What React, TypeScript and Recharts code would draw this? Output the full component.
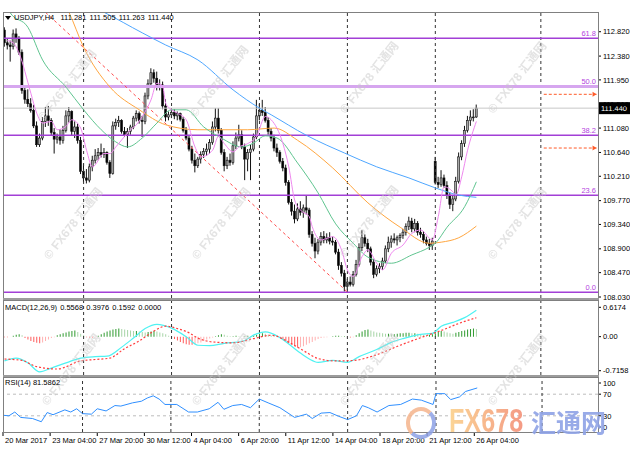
import { ComposedChart, Bar, Line, XAxis, YAxis, ReferenceLine, Cell } from 'recharts'

const FONT = '"Liberation Sans", Arial, sans-serif'
const CJK = '"Noto Sans CJK SC", sans-serif'

// USDJPY H4 bars, 20 Mar 12:00 .. 26 Apr 08:00
const openP = [
  112.85, 112.62, 112.58, 112.55, 112.78, 112.7, 112.45, 111.76, 111.6, 111.52,
  111.4, 111.12, 110.78, 110.9, 111.2, 111.3, 111.22, 111.0, 110.88, 110.92,
  110.86, 111.04, 111.3, 111.38, 111.02, 111.1, 110.86, 110.3, 110.18, 110.14,
  110.38, 110.5, 110.58, 110.64, 110.6, 110.64, 110.46, 110.26, 111.12, 111.18,
  111.22, 111.02, 110.96, 111.02, 111.1, 111.26, 111.34, 111.22, 111.2, 111.66,
  111.88, 112.08, 111.98, 111.84, 111.86, 111.48, 111.28, 111.32, 111.36, 111.3,
  111.34, 111.24, 111.04, 110.9, 110.7, 110.5, 110.4, 110.52, 110.6, 110.66,
  110.7, 110.82, 111.1, 111.26, 111.04, 110.64, 110.4, 110.5, 110.46, 110.76,
  110.9, 110.96, 110.74, 110.52, 110.64, 110.7, 110.92, 111.3, 111.4, 111.36,
  111.22, 111.02, 110.9, 110.72, 110.64, 110.48, 110.36, 110.1, 109.74, 109.58,
  109.44, 109.62, 109.56, 109.64, 109.6, 109.16, 109.0, 108.86, 109.02, 109.12,
  109.06, 109.1, 109.04, 109.02, 108.84, 108.6, 108.46, 108.22, 108.3, 108.26,
  108.44, 108.62, 108.92, 109.1, 109.0, 108.9, 108.66, 108.44, 108.54, 108.58,
  108.68, 108.9, 109.02, 109.08, 109.06, 109.1, 109.14, 109.2, 109.3, 109.4,
  109.26, 109.36, 109.2, 109.16, 109.06, 109.0, 108.96, 110.48, 110.1, 110.06,
  110.18, 110.04, 109.86, 109.7, 109.8, 110.12, 110.56, 110.8, 111.04, 111.22,
  111.28, 111.281,
]
const highP = [
  112.9, 112.7, 112.66, 112.86, 112.88, 112.74, 112.5, 111.84, 111.78, 111.62,
  111.5, 111.2, 110.98, 111.28, 111.46, 111.48, 111.26, 111.08, 110.98, 111.06,
  111.12, 111.4, 111.46, 111.4, 111.2, 111.16, 110.92, 110.44, 110.34, 110.44,
  110.58, 110.7, 110.72, 110.8, 110.72, 110.66, 110.5, 111.2, 111.25, 111.3,
  111.24, 111.1, 111.08, 111.14, 111.3, 111.4, 111.38, 111.3, 111.72, 111.96,
  112.16, 112.14, 112.1, 111.96, 111.92, 111.6, 111.38, 111.44, 111.42, 111.38,
  111.36, 111.28, 111.1, 110.94, 110.76, 110.62, 110.56, 110.66, 110.72, 110.8,
  110.88, 111.2, 111.44, 111.44, 111.08, 110.7, 110.56, 110.62, 110.84, 111.0,
  111.14, 111.04, 110.8, 110.7, 110.78, 110.98, 111.59, 111.52, 111.59, 111.46,
  111.28, 111.08, 110.96, 110.8, 110.68, 110.54, 110.42, 110.14, 109.8, 109.7,
  109.72, 109.76, 109.7, 109.87, 109.64, 109.22, 109.1, 109.08, 109.2, 109.22,
  109.18, 109.2, 109.12, 109.06, 108.9, 108.66, 108.52, 108.36, 108.4, 108.5,
  108.7, 109.0, 109.24, 109.16, 109.08, 108.94, 108.72, 108.6, 108.64, 108.74,
  108.96, 109.12, 109.14, 109.18, 109.14, 109.18, 109.26, 109.36, 109.48, 109.46,
  109.44, 109.4, 109.28, 109.22, 109.12, 109.08, 109.1, 110.56, 110.2, 110.32,
  110.24, 110.12, 109.92, 109.86, 110.2, 110.64, 110.86, 111.12, 111.3, 111.4,
  111.42, 111.505,
]
const lowP = [
  112.55, 112.5, 112.28, 112.5, 112.62, 112.4, 111.7, 111.52, 111.46, 111.36,
  111.08, 110.74, 110.74, 110.86, 111.1, 111.12, 110.95, 110.62, 110.8, 110.78,
  110.8, 111.0, 111.18, 110.95, 110.9, 110.8, 110.25, 110.1, 110.08, 110.1,
  110.3, 110.44, 110.5, 110.55, 110.54, 110.42, 110.18, 110.24, 111.05, 111.1,
  110.98, 110.92, 110.72, 110.96, 111.06, 111.2, 111.16, 110.92, 111.15, 111.6,
  111.84, 111.9, 111.76, 111.76, 111.42, 111.2, 111.22, 111.26, 111.24, 111.22,
  111.2, 111.0, 110.86, 110.66, 110.44, 110.28, 110.36, 110.44, 110.54, 110.58,
  110.62, 110.78, 111.02, 110.98, 110.6, 110.3, 110.34, 110.4, 110.42, 110.7,
  110.84, 110.7, 110.14, 110.3, 110.14, 110.66, 110.88, 111.22, 111.3, 111.18,
  110.96, 110.84, 110.66, 110.56, 110.44, 110.3, 110.04, 109.7, 109.5, 109.36,
  109.4, 109.5, 109.46, 109.52, 109.1, 108.94, 108.73, 108.8, 108.96, 109.0,
  109.0, 108.98, 108.96, 108.8, 108.52, 108.4, 108.13, 108.16, 108.22, 108.22,
  108.4, 108.58, 108.86, 108.94, 108.84, 108.6, 108.37, 108.4, 108.46, 108.52,
  108.64, 108.84, 108.92, 109.0, 108.96, 109.02, 109.08, 109.14, 109.24, 109.2,
  109.2, 109.14, 109.1, 109.0, 108.96, 108.88, 108.88, 110.06, 110.0, 110.02,
  110.0, 109.8, 109.62, 109.58, 109.76, 110.08, 110.5, 110.74, 111.0, 111.12,
  111.2, 111.263,
]
const closeP = [
  112.62, 112.58, 112.55, 112.78, 112.7, 112.45, 111.76, 111.6, 111.52, 111.4,
  111.12, 110.78, 110.9, 111.2, 111.3, 111.22, 111.0, 110.88, 110.92, 110.86,
  111.04, 111.3, 111.38, 111.02, 111.1, 110.86, 110.3, 110.18, 110.14, 110.38,
  110.5, 110.58, 110.64, 110.6, 110.64, 110.46, 110.26, 111.12, 111.18, 111.22,
  111.02, 110.96, 111.02, 111.1, 111.26, 111.34, 111.22, 111.2, 111.66, 111.88,
  112.08, 111.98, 111.84, 111.86, 111.48, 111.28, 111.32, 111.36, 111.3, 111.34,
  111.24, 111.04, 110.9, 110.7, 110.5, 110.4, 110.52, 110.6, 110.66, 110.7,
  110.82, 111.1, 111.26, 111.04, 110.64, 110.4, 110.5, 110.46, 110.76, 110.9,
  110.96, 110.74, 110.52, 110.64, 110.7, 110.92, 111.3, 111.4, 111.36, 111.22,
  111.02, 110.9, 110.72, 110.64, 110.48, 110.36, 110.1, 109.74, 109.58, 109.44,
  109.62, 109.56, 109.64, 109.6, 109.16, 109.0, 108.86, 109.02, 109.12, 109.06,
  109.1, 109.04, 109.02, 108.84, 108.6, 108.46, 108.22, 108.3, 108.26, 108.44,
  108.62, 108.92, 109.1, 109.0, 108.9, 108.66, 108.44, 108.54, 108.58, 108.68,
  108.9, 109.02, 109.08, 109.06, 109.1, 109.14, 109.2, 109.3, 109.4, 109.26,
  109.36, 109.2, 109.16, 109.06, 109.0, 108.96, 109.04, 110.1, 110.06, 110.18,
  110.04, 109.86, 109.7, 109.8, 110.12, 110.56, 110.8, 111.04, 111.22, 111.28,
  111.28, 111.44,
]

// MACD histogram per bar
const macdHist = [
  -0.01, -0.01, 0.0, 0.02, 0.04, 0.05, 0.03, -0.03, -0.06, -0.09,
  -0.11, -0.13, -0.14, -0.12, -0.09, -0.06, -0.03, -0.01, 0.03, 0.05,
  0.07, 0.09, 0.11, 0.12, 0.13, 0.1, 0.06, 0.03, -0.01, -0.02,
  -0.02, -0.01, 0.02, 0.05, 0.08, 0.11, 0.13, 0.15, 0.16, 0.17,
  0.16, 0.15, 0.14, 0.13, 0.12, 0.12, 0.11, 0.1, 0.09, 0.1,
  0.11, 0.12, 0.11, 0.09, 0.07, 0.05, 0.02, -0.02, -0.05, -0.08,
  -0.11, -0.14, -0.16, -0.17, -0.17, -0.16, -0.14, -0.12, -0.09, -0.06,
  -0.04, -0.02, 0.01, 0.03, 0.05, 0.04, 0.02, 0.01, 0.01, 0.02,
  0.01, 0.0, 0.01, 0.02, 0.01, 0.02, 0.04, 0.06, 0.07, 0.06,
  0.04, 0.02, 0.01, 0.0, -0.02, -0.05, -0.09, -0.13, -0.17, -0.2,
  -0.23, -0.22, -0.2, -0.17, -0.14, -0.11, -0.08, -0.05, -0.03, -0.02,
  -0.01, 0.0, 0.01, 0.02, 0.02, 0.01, 0.01, -0.01, -0.02, -0.01,
  0.03, 0.07, 0.11, 0.14, 0.15, 0.13, 0.11, 0.09, 0.08, 0.07,
  0.06, 0.06, 0.05, 0.05, 0.06, 0.07, 0.07, 0.08, 0.08, 0.07,
  0.07, 0.06, 0.05, 0.04, 0.03, 0.04, 0.05, 0.07, 0.1, 0.12,
  0.11, 0.09, 0.07, 0.06, 0.08, 0.1, 0.12, 0.13, 0.15, 0.16,
  0.17, 0.1592,
]

// indicator lines read at sample bars: [bar, value]
const maBlue: [number, number][] = [
  [0, 114.0], [18, 113.55], [34, 113.17], [47, 112.8], [55, 112.58], [66, 112.31], [78, 111.77],
  [87, 111.44], [91, 111.32], [103, 110.95], [110, 110.77], [116, 110.63], [127, 110.38],
  [138, 110.18], [147, 110.0], [155, 109.87], [161, 109.83],
]
const maOrange: [number, number][] = [
  [0, 114.6], [12, 113.9], [22, 113.17], [27, 112.54], [36, 111.82], [46, 111.41], [55, 111.14],
  [66, 111.05], [83, 111.05], [92, 111.08], [100, 110.86], [112, 110.36], [124, 109.73],
  [135, 109.29], [145, 109.0], [149, 109.02], [155, 109.1], [161, 109.31],
]
const maGreen: [number, number][] = [
  [0, 113.35], [2, 113.16], [8, 112.9], [13, 112.31], [21, 111.82], [27, 111.41], [33, 111.05],
  [38, 110.83], [42, 110.74], [47, 110.9], [52, 111.17], [57, 111.41], [62, 111.41], [68, 111.1],
  [74, 110.9], [81, 110.74], [85, 110.81], [89, 110.94], [93, 110.9], [100, 110.45], [107, 109.91],
  [113, 109.35], [119, 109.0], [124, 108.75], [132, 108.64], [139, 108.79], [145, 108.93],
  [147, 109.0], [151, 109.29], [157, 109.66], [161, 110.11],
]
const maPink: [number, number][] = [
  [1, 112.66], [3, 112.62], [5, 112.43], [9, 111.71], [11, 111.35], [13, 111.17], [16, 111.2],
  [18, 111.05], [21, 111.11], [23, 111.23], [26, 111.08], [28, 110.68], [30, 110.38], [34, 110.62],
  [36, 110.62], [38, 110.74], [41, 110.93], [43, 111.05], [45, 111.14], [47, 111.29], [50, 111.59],
  [52, 111.89], [54, 111.83], [55, 111.53], [57, 111.41], [59, 111.35], [62, 111.23], [65, 110.74],
  [67, 110.56], [71, 110.68], [73, 110.93], [75, 110.8], [78, 110.65], [80, 110.74], [83, 110.8],
  [86, 110.93], [89, 111.29], [91, 111.23], [95, 110.8], [97, 110.38], [99, 109.78], [101, 109.6],
  [104, 109.48], [105, 109.3], [108, 109.06], [110, 109.09], [112, 109.12], [115, 108.88],
  [117, 108.52], [119, 108.4], [122, 108.76], [124, 108.88], [127, 108.64], [129, 108.52],
  [132, 108.82], [136, 108.97], [139, 109.18], [142, 109.24], [146, 109.06], [148, 109.48],
  [150, 110.02], [153, 109.93], [154, 109.87], [156, 110.2], [158, 110.68], [161, 111.2],
]
const trendPts: [number, number][] = [[14, 113.17], [117, 108.12]]
const target1: [number, number][] = [[184, 111.69], [202, 111.69]]
const target2: [number, number][] = [[184, 110.72], [202, 110.72]]

const macdMain: [number, number][] = [
  [0, -0.51], [4, -0.45], [8, -0.55], [12, -0.74], [16, -0.66], [21, -0.55], [26, -0.45],
  [31, -0.42], [35, -0.41], [40, -0.22], [44, -0.03], [48, 0.17], [52, 0.26], [57, 0.18],
  [62, 0.0], [66, -0.18], [70, -0.19], [75, -0.14], [81, -0.1], [86, 0.06], [89, 0.1],
  [94, -0.02], [100, -0.3], [104, -0.47], [107, -0.54], [112, -0.5], [117, -0.54], [121, -0.42],
  [127, -0.27], [132, -0.12], [136, -0.04], [142, 0.05], [146, 0.07], [149, 0.22], [153, 0.3],
  [157, 0.4], [161, 0.5568],
]
const macdSignal: [number, number][] = [
  [0, -0.47], [6, -0.5], [11, -0.63], [18, -0.68], [26, -0.51], [31, -0.48], [36, -0.45],
  [41, -0.25], [46, -0.09], [51, 0.12], [55, 0.22], [59, 0.17], [63, 0.08], [66, -0.03],
  [71, -0.11], [78, -0.13], [85, -0.04], [91, 0.03], [98, -0.15], [103, -0.33], [107, -0.46],
  [113, -0.51], [119, -0.5], [127, -0.38], [135, -0.18], [143, 0.0], [149, 0.13], [156, 0.3],
  [161, 0.3976],
]
const rsiPts: [number, number][] = [
  [0, 31], [2, 30], [4, 37], [6, 27], [10, 25], [13, 19], [15, 36], [17, 32], [21, 41], [23, 37],
  [25, 43], [27, 34], [30, 33], [32, 43], [35, 39], [38, 49], [40, 48], [44, 54], [47, 57],
  [49, 63], [51, 67], [53, 61], [55, 51], [59, 51], [63, 37], [66, 37], [70, 43], [73, 55],
  [75, 42], [78, 49], [81, 51], [84, 45], [87, 61], [90, 54], [94, 45], [99, 27], [103, 33],
  [105, 25], [108, 35], [111, 36], [114, 29], [117, 23], [120, 30], [122, 49], [124, 45],
  [127, 37], [131, 49], [135, 51], [139, 61], [142, 59], [146, 51], [147, 71], [150, 71],
  [152, 60], [155, 65], [157, 75], [161, 81.5862],
]

const TOTAL = 203 // bars plus the empty shift area on the right
const priceDomain = [108.012, 113.158]
const priceTicks = [112.82, 112.38, 111.95, 111.51, 111.08, 110.64, 110.21, 109.77, 109.34, 108.9, 108.47, 108.03]
const lastPrice = 111.44
const fibLevels = [112.7, 111.83, 110.95, 109.866, 108.115]
const fibNames = ['61.8', '50.0', '38.2', '23.6', '0.0']
const macdDomain = [-0.806, 0.75]
const macdTicks = [0.6174, 0, -0.7158]
const rsiTicks = [100, 70, 30, 0]
const weekBars = [27, 57, 87, 117, 147, 183]
const timeBars = [0, 16, 32, 48, 64, 80, 96, 112, 128, 144, 160]
const timeLabels = [
  '20 Mar 2017', '23 Mar 04:00', '27 Mar 20:00', '30 Mar 12:00', '4 Apr 04:00', '6 Apr 20:00',
  '11 Apr 12:00', '14 Apr 04:00', '18 Apr 20:00', '21 Apr 12:00', '26 Apr 04:00',
]

const rows: Record<string, any>[] = Array.from({ length: TOTAL }, (_, i) => {
  const r: Record<string, any> = { i }
  if (i < closeP.length) {
    r.o = openP[i]
    r.h = highP[i]
    r.l = lowP[i]
    r.c = closeP[i]
    r.range = [lowP[i], highP[i]]
    r.hist = macdHist[i]
  }
  return r
})
const put = (key: string, pts: [number, number][]) => pts.forEach(([i, v]) => { rows[i][key] = v })
put('blue', maBlue)
put('orange', maOrange)
put('green', maGreen)
put('pink', maPink)
put('trend', trendPts)
put('t1', target1)
put('t2', target2)
put('macd', macdMain)
put('signal', macdSignal)
put('rsi', rsiPts)

const last = closeP.length - 1

function histColor(k: number) {
  const v = macdHist[k]
  const prev = k > 0 ? macdHist[k - 1] : 0
  if (v === undefined) return 'none'
  if (v >= 0) return v >= prev ? '#2e9a2e' : '#a6d4a6'
  return v <= prev ? '#ff5a5a' : '#ffb0b0'
}

function Candle(props: any) {
  const { x, y, width, height, payload } = props
  if (!payload || payload.o == null || !Number.isFinite(y)) return <g />
  const top = Math.min(y, y + height)
  const len = Math.abs(height)
  const k = payload.h > payload.l ? len / (payload.h - payload.l) : 0
  const yo = top + (payload.h - payload.o) * k
  const yc = top + (payload.h - payload.c) * k
  const cx = x + width / 2
  const up = payload.c >= payload.o
  return (
    <g>
      <line x1={cx} x2={cx} y1={top} y2={top + len} stroke="#111" strokeWidth={1} />
      <rect
        x={cx - 1}
        y={Math.min(yo, yc)}
        width={2}
        height={Math.max(Math.abs(yc - yo), 0.8)}
        fill={up ? '#a9a9a9' : '#000'}
        stroke="#111"
        strokeWidth={0.6}
      />
    </g>
  )
}

const arrowDot = (p: any) => {
  if (p.cy == null || p.payload.i !== 202) return <g key={p.key} />
  return <path key={p.key} d={`M${p.cx - 4},${p.cy - 2.5}L${p.cx},${p.cy}L${p.cx - 4},${p.cy + 2.5}Z`} fill="#ff5a28" />
}

const fibLabel = (text: string, lift: number) => (p: any) => {
  const vb = p.viewBox
  return (
    <text x={vb.x + vb.width - 2} y={vb.y - lift} textAnchor="end" fontSize={7.5} fontFamily={FONT} fill="#b443e0">
      {text}
    </text>
  )
}

const priceBox = (p: any) => {
  const vb = p.viewBox
  const bx = vb.x + vb.width + 1
  return (
    <g>
      <rect x={bx} y={vb.y - 6} width={31} height={12} fill="#000" />
      <text x={bx + 2} y={vb.y + 3} fontSize={7.5} fill="#fff" fontFamily={FONT}>
        {lastPrice.toFixed(3)}
      </text>
    </g>
  )
}

function TimeTick(props: any) {
  const { x, y, payload } = props
  const k = timeBars.indexOf(payload.value)
  if (k < 0) return <g />
  return (
    <g>
      <line x1={x} x2={x} y1={y - 4} y2={y} stroke="#000" />
      <text x={x + 2} y={y + 6.5} fontSize={7.5} fontFamily={FONT} fill="#000">
        {timeLabels[k]}
      </text>
    </g>
  )
}

function RsiTick(props: any) {
  const { x, y, payload } = props
  const ty = Math.min(Math.max(y, 7), 51)
  return (
    <g>
      <line x1={x - 5} x2={x - 2} y1={ty} y2={ty} stroke="#000" />
      <text x={x} y={ty + 2.7} fontSize={7.5} fontFamily={FONT} fill="#000">
        {payload.value}
      </text>
    </g>
  )
}

const axisTick = { fontSize: 7.5, fill: '#000', fontFamily: FONT }

const ma = (key: string, color: string) => (
  <Line
    dataKey={key}
    stroke={color}
    strokeWidth={1}
    type="monotone"
    dot={false}
    activeDot={false}
    connectNulls
    isAnimationActive={false}
  />
)

const marks = [
  [66, 84], [218, 80], [368, 76], [516, 76],
  [72, 222], [220, 222], [368, 220], [516, 222],
  [70, 368], [220, 368], [368, 368], [516, 368],
]

export default function App() {
  return (
    <div style={{ position: 'absolute', left: 0, top: 0, width: 630, height: 460, background: '#fff', overflow: 'hidden', fontFamily: FONT }}>
      <div style={{ position: 'absolute', left: 0, top: 0 }}>
        <ComposedChart width={630} height={306} data={rows} margin={{ top: 13, right: 0, bottom: 8, left: 3 }} barCategoryGap={0} barGap={0}>
          <XAxis dataKey="i" hide />
          <YAxis
            orientation="right"
            width={32}
            domain={priceDomain}
            allowDataOverflow
            ticks={priceTicks}
            interval={0}
            tickFormatter={(v: number) => v.toFixed(3)}
            tick={axisTick}
            tickSize={3}
            tickMargin={2}
            axisLine={false}
            tickLine={{ stroke: '#000' }}
          />
          {weekBars.map((b) => (
            <ReferenceLine key={'w' + b} x={b} stroke="#333" strokeDasharray="3 3" />
          ))}
          <ReferenceLine y={lastPrice} stroke="#c8c8c8" label={priceBox} />
          {fibLevels.map((v, k) => (
            <ReferenceLine
              key={'f' + k}
              y={v}
              stroke={k === 1 ? '#d6a6ef' : '#a23fd6'}
              strokeWidth={k === 1 ? 3 : 1.5}
              label={fibLabel(fibNames[k], k === 1 ? 3 : 2)}
            />
          ))}
          <Line dataKey="trend" stroke="#ff4a4a" strokeWidth={1} strokeDasharray="3 3" type="linear" dot={false} activeDot={false} connectNulls isAnimationActive={false} />
          {ma('blue', '#4ea6ff')}
          {ma('orange', '#ffa640')}
          {ma('green', '#5fc48f')}
          <Bar dataKey="range" barSize={3} shape={Candle} isAnimationActive={false} />
          {ma('pink', '#ee88ee')}
          <Line dataKey="t1" stroke="#ff5a28" strokeWidth={1} strokeDasharray="3 2" type="linear" dot={arrowDot} activeDot={false} connectNulls isAnimationActive={false} />
          <Line dataKey="t2" stroke="#ff5a28" strokeWidth={1} strokeDasharray="3 2" type="linear" dot={arrowDot} activeDot={false} connectNulls isAnimationActive={false} />
        </ComposedChart>
      </div>

      <div style={{ position: 'absolute', left: 0, top: 299 }}>
        <ComposedChart width={630} height={78} data={rows} margin={{ top: 2, right: 0, bottom: 2, left: 3 }} barCategoryGap={0} barGap={0}>
          <XAxis dataKey="i" hide />
          <YAxis
            orientation="right"
            width={32}
            domain={macdDomain}
            allowDataOverflow
            ticks={macdTicks}
            interval={0}
            tickFormatter={(v: number) => (v === 0 ? '0.00' : String(v))}
            tick={axisTick}
            tickSize={3}
            tickMargin={2}
            axisLine={false}
            tickLine={{ stroke: '#000' }}
          />
          {weekBars.map((b) => (
            <ReferenceLine key={'m' + b} x={b} stroke="#333" strokeDasharray="3 3" />
          ))}
          <Bar dataKey="hist" barSize={1} isAnimationActive={false}>
            {rows.map((_, k) => (
              <Cell key={k} fill={histColor(k)} />
            ))}
          </Bar>
          <Line dataKey="macd" stroke="#4ff2f2" strokeWidth={1.2} type="monotone" dot={false} activeDot={false} connectNulls isAnimationActive={false} />
          <Line dataKey="signal" stroke="#ff3b3b" strokeWidth={1.2} strokeDasharray="2 2" type="monotone" dot={false} activeDot={false} connectNulls isAnimationActive={false} />
        </ComposedChart>
      </div>

      <div style={{ position: 'absolute', left: 0, top: 376 }}>
        <ComposedChart width={630} height={84} data={rows} margin={{ top: 2, right: 0, bottom: 0, left: 3 }}>
          <XAxis dataKey="i" interval={0} tick={TimeTick} tickLine={false} axisLine={false} height={28} tickSize={4} tickMargin={0} />
          <YAxis
            orientation="right"
            width={32}
            domain={[0, 100]}
            allowDataOverflow
            ticks={rsiTicks}
            interval={0}
            tick={RsiTick}
            tickSize={3}
            tickMargin={2}
            axisLine={false}
            tickLine={false}
          />
          <ReferenceLine y={70} stroke="#bdbdbd" strokeDasharray="3 3" />
          <ReferenceLine y={30} stroke="#bdbdbd" strokeDasharray="3 3" />
          {weekBars.map((b) => (
            <ReferenceLine key={'r' + b} x={b} stroke="#333" strokeDasharray="3 3" />
          ))}
          <Line dataKey="rsi" stroke="#2f8fff" strokeWidth={1} type="linear" dot={false} activeDot={false} connectNulls isAnimationActive={false} />
        </ComposedChart>
      </div>

      {/* panel frames */}
      <div style={{ position: 'absolute', left: 3, top: 12, width: 596, height: 287, border: '1px solid #808080', boxSizing: 'border-box', pointerEvents: 'none' }} />
      <div style={{ position: 'absolute', left: 3, top: 298, width: 596, height: 3, background: '#9c9c9c' }} />
      <div style={{ position: 'absolute', left: 3, top: 300, width: 596, height: 77, border: '1px solid #808080', boxSizing: 'border-box', pointerEvents: 'none' }} />
      <div style={{ position: 'absolute', left: 3, top: 375, width: 596, height: 3, background: '#9c9c9c' }} />
      <div style={{ position: 'absolute', left: 3, top: 377, width: 596, height: 56, border: '1px solid #808080', boxSizing: 'border-box', pointerEvents: 'none' }} />

      {/* watermarks */}
      {marks.map(([mx, my], k) => (
        <div
          key={k}
          style={{
            position: 'absolute',
            left: mx - 55,
            top: my - 8,
            width: 110,
            textAlign: 'center',
            fontSize: 12,
            fontWeight: 'bold',
            color: '#c8c8c8',
            opacity: 0.5,
            transform: 'rotate(-52deg)',
            whiteSpace: 'nowrap',
            pointerEvents: 'none',
            fontFamily: `${FONT}, ${CJK}`,
          }}
        >
          © FX678 <span style={{ fontFamily: CJK }}>汇通网</span>
        </div>
      ))}

      {/* panel captions */}
      <div style={{ position: 'absolute', left: 5, top: 13, fontSize: 7.5, lineHeight: '10px', color: '#000', whiteSpace: 'nowrap', wordSpacing: 1 }}>
        <span style={{ display: 'inline-block', width: 0, height: 0, borderLeft: '3px solid transparent', borderRight: '3px solid transparent', borderTop: '4px solid #000', marginRight: 3, verticalAlign: 'middle' }} />
        USDJPY,H4&nbsp; {openP[last].toFixed(3)} {highP[last].toFixed(3)} {lowP[last].toFixed(3)} {closeP[last].toFixed(3)}
      </div>
      <div style={{ position: 'absolute', left: 5, top: 303, fontSize: 7.5, lineHeight: '10px', color: '#000', whiteSpace: 'nowrap', wordSpacing: 1 }}>
        MACD(12,26,9) {macdMain[macdMain.length - 1][1].toFixed(4)} {macdSignal[macdSignal.length - 1][1].toFixed(4)} {macdHist[last].toFixed(4)} 0.0000
      </div>
      <div style={{ position: 'absolute', left: 5, top: 378, fontSize: 7.5, lineHeight: '10px', color: '#000', whiteSpace: 'nowrap' }}>
        RSI(14) {rsiPts[rsiPts.length - 1][1].toFixed(4)}
      </div>

      {/* corner logo */}
      <div style={{ position: 'absolute', left: 406, top: 407, width: 22, height: 24, borderRadius: '50%', border: '4px solid', borderColor: '#f5b48c #8ea2e6 #8ea2e6 #f5b48c', opacity: 0.85 }} />
      <div
        style={{
          position: 'absolute',
          left: 449,
          top: 403,
          fontSize: 34,
          fontWeight: 'bold',
          lineHeight: '34px',
          transform: 'scaleX(0.74)',
          transformOrigin: 'left top',
          background: 'linear-gradient(90deg, #fbd596, #f49a84)',
          WebkitBackgroundClip: 'text',
          backgroundClip: 'text',
          color: 'transparent',
          whiteSpace: 'nowrap',
        }}
      >
        FX678
      </div>
      <div style={{ position: 'absolute', left: 531, top: 406, fontSize: 25, fontWeight: 'bold', lineHeight: '30px', color: '#8fa3e6', fontFamily: CJK, whiteSpace: 'nowrap', opacity: 0.9 }}>
        汇通网
      </div>
    </div>
  )
}
